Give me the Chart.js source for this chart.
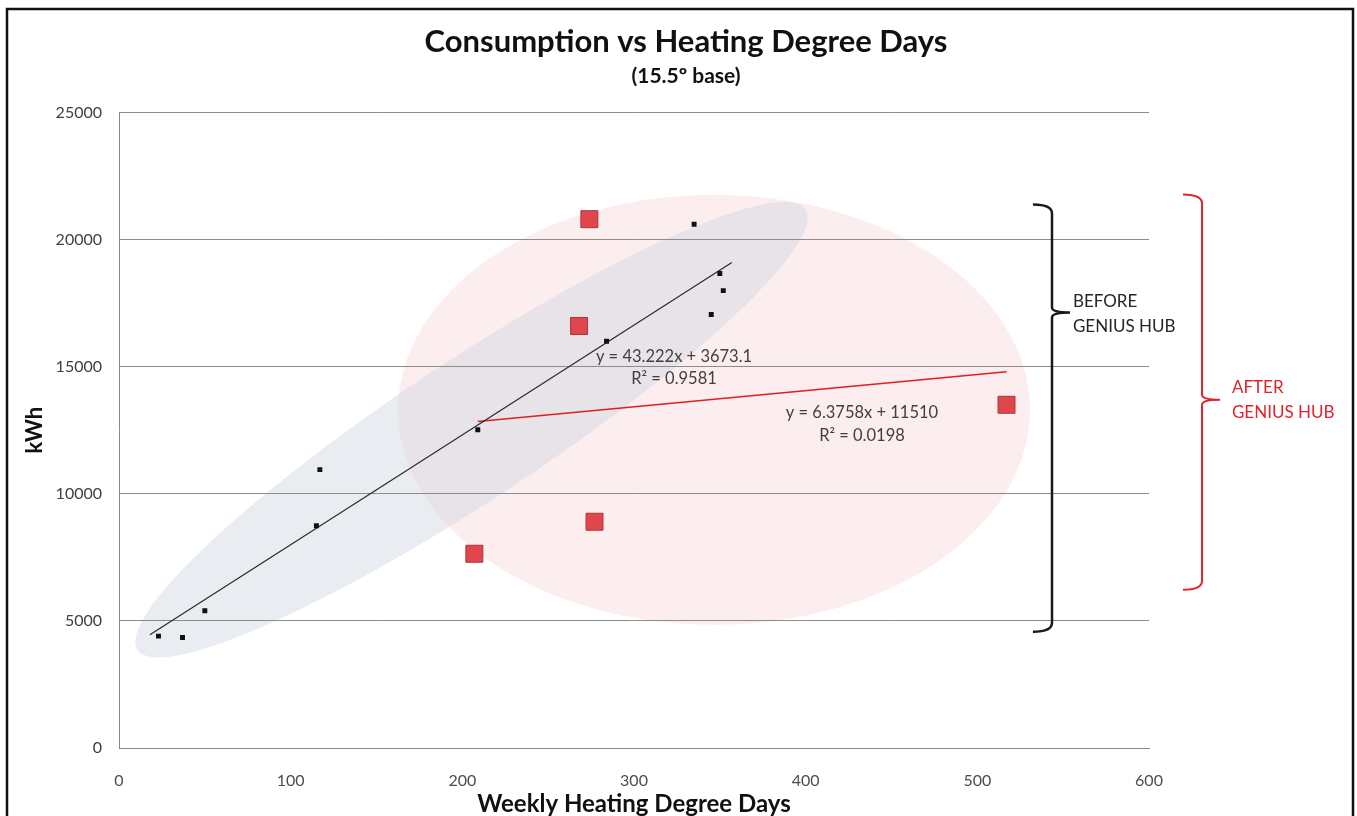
<!DOCTYPE html>
<html>
<head>
<meta charset="utf-8">
<script src="https://cdn.jsdelivr.net/npm/chart.js@4.4.0/dist/chart.umd.min.js"></script>
<style>
  html, body { margin: 0; padding: 0; background: #fff; }
  #wrap { width: 1357px; height: 816px; position: relative; }
</style>
</head>
<body>
<div id="wrap"><canvas id="chart"></canvas></div>
<script>
// weekly heating degree days vs kWh
const beforeHDD = [23, 37, 50, 115, 117, 209, 284, 335, 350, 352, 345];
const beforeKWh = [4400, 4350, 5400, 8740, 10950, 12520, 16000, 20600, 18660, 17990, 17050];

const afterHDD = [274, 268, 517, 277, 207];
const afterKWh = [20800, 16600, 13500, 8900, 7640];

// trendline end points (as drawn)
const trendBeforeHDD = [18, 357];
const trendBeforeKWh = [4450, 19100];
const trendAfterHDD = [209, 517];
const trendAfterKWh = [12840, 14800];

const xTickLabels = ['0', '100', '200', '300', '400', '500', '600'];
const yTickLabels = ['0', '5000', '10000', '15000', '20000', '25000'];

const toPoints = (xs, ys) => xs.map((x, i) => ({ x: x, y: ys[i] }));

Chart.defaults.font.family = 'Lato, "Open Sans", sans-serif';
Chart.defaults.color = '#404040';

// ellipses, brackets, equations and frame
const decorations = {
    id: 'decorations',
    beforeDraw(chart) {
        const { ctx, scales: { x, y } } = chart;
        ctx.save();
        // pink "after" ellipse
        ctx.beginPath();
        ctx.ellipse(x.getPixelForValue(346.6), y.getPixelForValue(13300), 316, 215, 0, 0, Math.PI * 2);
        ctx.fillStyle = 'rgba(245, 200, 200, 0.3)';
        ctx.fill();
        // grey-blue "before" ellipse
        ctx.beginPath();
        ctx.ellipse(x.getPixelForValue(205.3), y.getPixelForValue(12520), 400, 70, -33.4 * Math.PI / 180, 0, Math.PI * 2);
        ctx.fillStyle = 'rgba(198, 208, 222, 0.38)';
        ctx.fill();
        ctx.restore();
    },
    afterDraw(chart) {
        const { ctx, scales: { x, y } } = chart;
        ctx.save();

        // regression equations
        ctx.fillStyle = '#404040';
        ctx.font = '16.5px Lato, "Open Sans", sans-serif';
        ctx.textAlign = 'center';
        ctx.textBaseline = 'middle';
        ctx.fillText('y = 43.222x + 3673.1', x.getPixelForValue(323.3), y.getPixelForValue(15390));
        ctx.fillText('R² = 0.9581', x.getPixelForValue(323.3), y.getPixelForValue(14530));
        ctx.fillText('y = 6.3758x + 11510', x.getPixelForValue(432.8), y.getPixelForValue(13190));
        ctx.fillText('R² = 0.0198', x.getPixelForValue(432.8), y.getPixelForValue(12280));

        // brackets
        const bracket = (xv, tipL, tipR, top, mid, bottom, color, width) => {
            const bx = x.getPixelForValue(xv);
            const lx = x.getPixelForValue(tipL);
            const rx = x.getPixelForValue(tipR);
            const ty = y.getPixelForValue(top);
            const my = y.getPixelForValue(mid);
            const by = y.getPixelForValue(bottom);
            ctx.strokeStyle = color;
            ctx.lineWidth = width;
            ctx.beginPath();
            ctx.moveTo(lx, ty);
            ctx.quadraticCurveTo(bx, ty, bx, ty + 9);
            ctx.lineTo(bx, my - 5);
            ctx.quadraticCurveTo(bx, my, rx, my);
            ctx.moveTo(rx, my);
            ctx.quadraticCurveTo(bx, my, bx, my + 5);
            ctx.lineTo(bx, by - 9);
            ctx.quadraticCurveTo(bx, by, lx, by);
            ctx.stroke();
        };
        bracket(543.5, 532.4, 554, 21380, 17130, 4570, '#1a1a1a', 2.5);
        bracket(630.9, 619.8, 641.4, 21770, 13700, 6220, '#e0222c', 2);

        ctx.textAlign = 'left';
        ctx.font = '17px Lato, "Open Sans", sans-serif';
        ctx.fillStyle = '#262626';
        ctx.fillText('BEFORE', x.getPixelForValue(555.7), y.getPixelForValue(17580));
        ctx.fillText('GENIUS HUB', x.getPixelForValue(555.7), y.getPixelForValue(16570));
        ctx.fillStyle = '#e0222c';
        ctx.fillText('AFTER', x.getPixelForValue(648.3), y.getPixelForValue(14170));
        ctx.fillText('GENIUS HUB', x.getPixelForValue(648.3), y.getPixelForValue(13180));

        // picture frame
        ctx.strokeStyle = '#111';
        ctx.lineWidth = 2.5;
        ctx.strokeRect(7, 9, 1346, 830);
        ctx.restore();
    }
};

new Chart(document.getElementById('chart'), {
    type: 'scatter',
    data: {
        datasets: [
            {
                label: 'Before',
                data: toPoints(beforeHDD, beforeKWh),
                pointStyle: 'rect',
                pointRadius: 3.5,
                backgroundColor: '#111',
                borderColor: '#111',
                borderWidth: 0
            },
            {
                label: 'After',
                data: toPoints(afterHDD, afterKWh),
                pointStyle: 'rect',
                pointRadius: 12,
                backgroundColor: '#e2464d',
                borderColor: '#a8363b',
                borderWidth: 1
            },
            {
                label: 'Trend before',
                data: toPoints(trendBeforeHDD, trendBeforeKWh),
                showLine: true,
                pointRadius: 0,
                borderColor: '#2b2b2b',
                borderWidth: 1.2
            },
            {
                label: 'Trend after',
                data: toPoints(trendAfterHDD, trendAfterKWh),
                showLine: true,
                pointRadius: 0,
                borderColor: '#e02020',
                borderWidth: 1.6
            }
        ]
    },
    options: {
        responsive: true,
        maintainAspectRatio: false,
        animation: false,
        layout: { padding: { left: 18, right: 3, top: 0, bottom: 0 } },
        plugins: {
            legend: { display: false },
            tooltip: { enabled: false },
            title: {
                display: true,
                text: 'Consumption vs Heating Degree Days',
                color: '#111',
                font: { size: 31, weight: 'bold' },
                padding: { top: 23, bottom: 0 }
            },
            subtitle: {
                display: true,
                text: '(15.5º base)',
                color: '#111',
                font: { size: 21, weight: 'bold' },
                padding: { top: 3, bottom: 24 }
            }
        },
        scales: {
            x: {
                type: 'linear',
                min: 0,
                max: 600,
                afterFit: (s) => { s.height = 68; },
                grid: { display: false },
                border: { display: true, color: '#868686', width: 1 },
                ticks: {
                    stepSize: 100,
                    padding: 15,
                    color: '#4d4d4d',
                    font: { size: 16, family: '"Liberation Sans Narrow", Lato, sans-serif' },
                    callback: (v, i) => xTickLabels[i]
                },
                title: {
                    display: true,
                    text: 'Weekly Heating Degree Days',
                    color: '#111',
                    font: { size: 24, weight: 'bold', lineHeight: 1 },
                    padding: { top: 0, bottom: 0 }
                }
            },
            y: {
                min: 0,
                max: 25000,
                afterFit: (s) => { s.width = 101; },
                grid: { color: '#8c8c8c', lineWidth: 1, drawTicks: false },
                border: { display: true, color: '#868686', width: 1 },
                ticks: {
                    stepSize: 5000,
                    padding: 17,
                    color: '#404040',
                    font: { size: 16 },
                    callback: (v, i) => yTickLabels[i]
                },
                title: {
                    display: true,
                    text: 'kWh',
                    color: '#111',
                    font: { size: 22, weight: 'bold' },
                    padding: { top: 4, bottom: 0 }
                }
            },
            yRight: {
                position: 'right',
                display: true,
                afterFit: (s) => { s.width = 205; },
                grid: { display: false },
                border: { display: false },
                ticks: { display: false }
            }
        }
    },
    plugins: [decorations]
});
</script>
</body>
</html>
